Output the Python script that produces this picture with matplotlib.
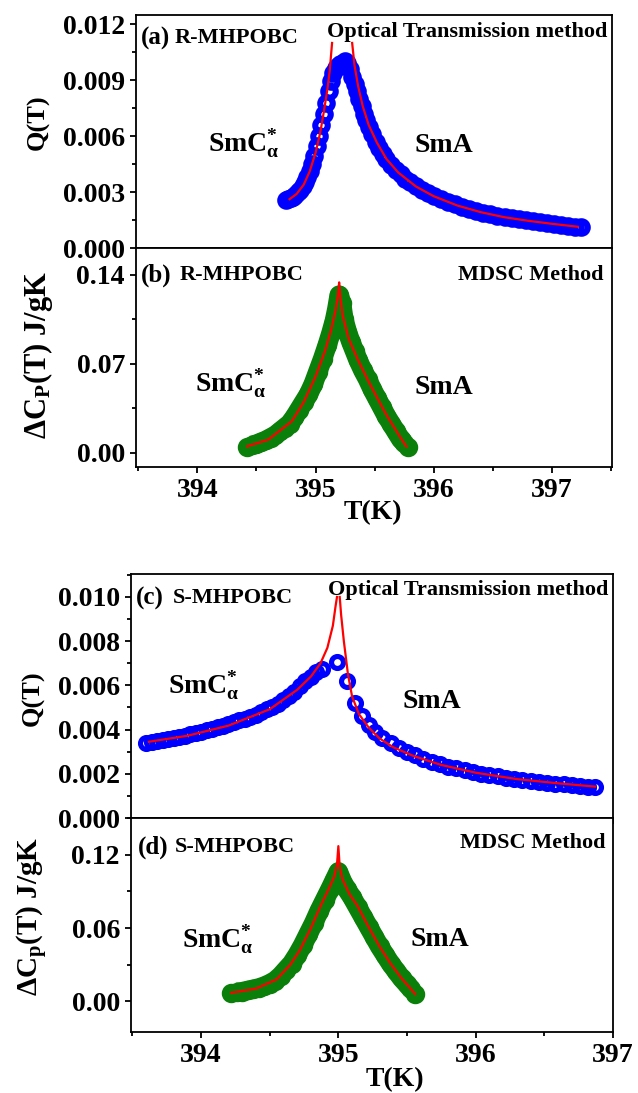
import matplotlib
matplotlib.use("Agg")
import matplotlib.pyplot as plt
from matplotlib.ticker import FormatStrFormatter, MultipleLocator

plt.rcParams['font.family'] = 'Liberation Serif'
plt.rcParams['font.weight'] = 'bold'
plt.rcParams['mathtext.fontset'] = 'custom'
plt.rcParams['mathtext.rm'] = 'Liberation Serif:bold'
plt.rcParams['mathtext.it'] = 'Liberation Serif:bold'
plt.rcParams['mathtext.bf'] = 'Liberation Serif:bold'

# (a) R-MHPOBC, optical transmission
T_a = [394.75, 394.77, 394.79, 394.81, 394.83, 394.85, 394.87, 394.89, 394.91, 394.93,
       394.95, 394.97, 394.99, 395.01, 395.03, 395.05, 395.07, 395.09, 395.11, 395.13,
       395.15, 395.17, 395.19, 395.21, 395.23, 395.25,
       395.27, 395.29, 395.31, 395.33, 395.35, 395.37, 395.39, 395.41, 395.43, 395.45,
       395.48, 395.51, 395.54, 395.57, 395.60, 395.64, 395.68, 395.72, 395.76, 395.80,
       395.85, 395.90, 395.95, 396.00, 396.06, 396.12, 396.18, 396.24, 396.30, 396.36,
       396.42, 396.48, 396.54, 396.60, 396.66, 396.72, 396.78, 396.84, 396.90, 396.96,
       397.02, 397.08, 397.14, 397.20, 397.25]
Q_a = [.00257, .00262, .00268, .00276, .00286, .00298, .00312, .00330, .00352, .00380,
       .00412, .00450, .00495, .00545, .00600, .00660, .00720, .00780, .00840, .00895,
       .00940, .00965, .00975, .00985, .00995, .01005,
       .00995, .00960, .00920, .00880, .00840, .00800, .00760, .00720, .00685, .00650,
       .00610, .00570, .00535, .00505, .00475, .00445, .00418, .00395, .00372, .00352,
       .00330, .00312, .00295, .00280, .00265, .00248, .00234, .00221, .00209, .00198,
       .00189, .00180, .00172, .00165, .00159, .00153, .00148, .00143, .00138, .00133,
       .00128, .00123, .00119, .00115, .00113]
Tfit_a_lo = [394.78, 394.84, 394.90, 394.95, 395.00, 395.04, 395.07, 395.10, 395.12, 395.14]
Qfit_a_lo = [.00262, .00290, .00340, .00410, .00510, .00620, .00730, .00850, .00950, .01100]
Tfit_a_hi = [395.31, 395.33, 395.36, 395.40, 395.45, 395.52, 395.60, 395.70, 395.85, 396.00,
             396.20, 396.40, 396.60, 396.80, 397.00, 397.22]
Qfit_a_hi = [.01100, .00980, .00870, .00760, .00660, .00565, .00478, .00405, .00330, .00278,
             .00228, .00192, .00165, .00146, .00130, .00114]

# (b) R-MHPOBC, MDSC
T_b = [394.42, 394.46, 394.50, 394.54, 394.58, 394.62, 394.66, 394.70, 394.74, 394.78,
       394.82, 394.86, 394.90, 394.94, 394.98, 395.02, 395.06, 395.10, 395.13, 395.16,
       395.18, 395.20,
       395.22, 395.24, 395.27, 395.30, 395.33, 395.36, 395.40, 395.44, 395.48, 395.52,
       395.56, 395.60, 395.64, 395.68, 395.72, 395.75, 395.78]
C_b = [.005, .006, .007, .0085, .010, .012, .014, .017, .020, .023,
       .028, .034, .040, .046, .054, .064, .074, .085, .094, .104,
       .113, .124,
       .118, .105, .095, .087, .080, .073, .065, .058, .050, .043,
       .036, .029, .023, .017, .011, .008, .005]
Tfit_b = [394.42, 394.60, 394.80, 394.90, 395.00, 395.08, 395.13, 395.17, 395.19, 395.20,
          395.21, 395.23, 395.28, 395.36, 395.45, 395.53, 395.60, 395.66, 395.72, 395.77]
Cfit_b = [.0052, .0105, .025, .040, .060, .080, .096, .112, .124, .134,
          .122, .108, .090, .073, .056, .042, .030, .021, .012, .005]

# (c) S-MHPOBC, optical transmission
T_c = [393.60, 393.64, 393.68, 393.72, 393.76, 393.80, 393.84, 393.88, 393.92, 393.96,
       394.00, 394.04, 394.08, 394.12, 394.16, 394.20, 394.24, 394.28, 394.32, 394.36,
       394.40, 394.44, 394.48, 394.52, 394.56, 394.60, 394.64, 394.68, 394.72, 394.76,
       394.80, 394.84, 394.88, 394.99,
       395.06, 395.12, 395.17, 395.22, 395.27, 395.32, 395.38, 395.44, 395.50, 395.56,
       395.62, 395.68, 395.74, 395.80, 395.86, 395.92, 395.98, 396.04, 396.10, 396.16,
       396.22, 396.28, 396.34, 396.40, 396.46, 396.52, 396.58, 396.64, 396.70, 396.76,
       396.82, 396.87]
Q_c = [.00341, .00345, .00349, .00353, .00358, .00363, .00368, .00373, .00378, .00384,
       .00390, .00397, .00404, .00411, .00418, .00426, .00434, .00442, .00450, .00458,
       .00468, .00479, .00491, .00504, .00518, .00534, .00552, .00572, .00595, .00620,
       .00640, .00660, .00672, .00707,
       .00620, .00520, .00460, .00420, .00388, .00362, .00340, .00318, .00300, .00284,
       .00268, .00255, .00243, .00233, .00224, .00216, .00208, .00200, .00194, .00188,
       .00182, .00177, .00172, .00167, .00163, .00159, .00155, .00152, .00148, .00145,
       .00142, .00140]
Tfit_c_lo = [393.62, 393.90, 394.20, 394.50, 394.70, 394.80, 394.87, 394.92, 394.96, 394.98, 394.99]
Qfit_c_lo = [.00345, .00372, .00418, .00492, .00580, .00640, .00700, .00770, .00870, .00960, .01000]
Tfit_c_hi = [395.01, 395.02, 395.04, 395.07, 395.10, 395.15, 395.22, 395.30, 395.40, 395.55,
             395.75, 396.00, 396.30, 396.60, 396.87]
Qfit_c_hi = [.01000, .00920, .00800, .00650, .00550, .00470, .00410, .00360, .00320, .00280,
             .00240, .00205, .00176, .00157, .00142]

# (d) S-MHPOBC, MDSC
T_d = [394.22, 394.26, 394.30, 394.34, 394.38, 394.42, 394.46, 394.50, 394.54, 394.58,
       394.62, 394.66, 394.70, 394.74, 394.78, 394.82, 394.86, 394.90, 394.94, 394.97,
       395.00,
       395.03, 395.06, 395.10, 395.14, 395.18, 395.22, 395.26, 395.30, 395.34, 395.38,
       395.42, 395.46, 395.50, 395.53, 395.56]
C_d = [.007, .0075, .008, .009, .010, .011, .0125, .0145, .017, .021,
       .026, .031, .038, .046, .055, .064, .074, .083, .092, .099,
       .106,
       .098, .092, .085, .077, .069, .061, .053, .045, .038, .031,
       .025, .019, .014, .010, .006]
Tfit_d = [394.22, 394.40, 394.55, 394.65, 394.72, 394.80, 394.87, 394.93, 394.97, 394.99,
          395.00, 395.01, 395.03, 395.08, 395.14, 395.22, 395.30, 395.38, 395.46, 395.56]
Cfit_d = [.007, .0105, .018, .030, .042, .060, .078, .092, .102, .112,
          .127, .110, .100, .088, .078, .061, .045, .031, .019, .006]

W, H = 638, 1093
fig = plt.figure(figsize=(W / 100, H / 100), dpi=100)


def box(l, t, r, b):
    return [l / W, 1 - b / H, (r - l) / W, (b - t) / H]


def ftxt(x, y, s, **kw):
    fig.text(x / W, 1 - y / H, s, fontweight='bold', **kw)


ax_a = fig.add_axes(box(136, 15, 612, 248))
ax_b = fig.add_axes(box(136, 248, 612, 467))
ax_c = fig.add_axes(box(131, 574, 613, 818))
ax_d = fig.add_axes(box(131, 818, 613, 1032))

blue = '#0000ff'
green = '#0a800a'
red = '#ff0000'

ax_a.plot(T_a, Q_a, 'o', mfc='none', mec=blue, ms=9, mew=4.4)
ax_a.plot(Tfit_a_lo, Qfit_a_lo, color=red, lw=1.6)
ax_a.plot(Tfit_a_hi, Qfit_a_hi, color=red, lw=1.6)

# green data: thick band through the points, open circles on top
ax_b.plot(T_b[1:-1], C_b[1:-1], color=green, lw=14, solid_capstyle='butt',
          solid_joinstyle='round')
ax_b.plot(T_b, C_b, 'o', mfc='none', mec=green, ms=9, mew=5)
ax_b.plot(Tfit_b, Cfit_b, color=red, lw=1.6)

ax_c.plot(T_c, Q_c, 'o', mfc='none', mec=blue, ms=8.6, mew=3.7)
ax_c.plot(Tfit_c_lo, Qfit_c_lo, color=red, lw=1.6)
ax_c.plot(Tfit_c_hi, Qfit_c_hi, color=red, lw=1.6)

ax_d.plot(T_d[1:-1], C_d[1:-1], color=green, lw=14, solid_capstyle='butt',
          solid_joinstyle='round')
ax_d.plot(T_d, C_d, 'o', mfc='none', mec=green, ms=9, mew=5)
ax_d.plot(Tfit_d, Cfit_d, color=red, lw=1.6)

settings = [
    (ax_a, (393.48, 397.51), (0, 0.0125), 0.003, '%.3f'),
    (ax_b, (393.48, 397.51), (-0.011, 0.161), 0.07, '%.2f'),
    (ax_c, (393.49, 397.0), (0, 0.01104), 0.002, '%.3f'),
    (ax_d, (393.49, 397.0), (-0.025, 0.150), 0.06, '%.2f'),
]
for ax, xl, yl, ystep, fmt in settings:
    ax.set_xlim(*xl)
    ax.set_ylim(*yl)
    ax.xaxis.set_major_locator(MultipleLocator(1))
    ax.xaxis.set_minor_locator(MultipleLocator(0.5))
    ax.yaxis.set_major_locator(MultipleLocator(ystep))
    ax.yaxis.set_minor_locator(MultipleLocator(ystep / 2))
    ax.yaxis.set_major_formatter(FormatStrFormatter(fmt))
    ax.tick_params(which='both', direction='out', width=1.3, labelsize=20)
    ax.tick_params(which='major', length=4.5)
    ax.tick_params(which='minor', length=2.6)
    for lab in ax.get_xticklabels() + ax.get_yticklabels():
        lab.set_fontweight('bold')
    for sp in ax.spines.values():
        sp.set_linewidth(1.3)
ax_a.tick_params(labelbottom=False)
ax_c.tick_params(labelbottom=False)

# panel annotations
ftxt(141, 38, '(a)', fontsize=18, ha='left', va='center')
ftxt(175, 38, 'R-MHPOBC', fontsize=16, ha='left', va='center')
ftxt(607, 32, 'Optical Transmission method', fontsize=16, ha='right', va='center')
ftxt(208, 143, r'SmC$_{\alpha}^{*}$', fontsize=20, ha='left', va='center')
ftxt(414, 145, 'SmA', fontsize=20, ha='left', va='center')

ftxt(141, 275, '(b)', fontsize=18, ha='left', va='center')
ftxt(180, 275, 'R-MHPOBC', fontsize=16, ha='left', va='center')
ftxt(603, 275, 'MDSC Method', fontsize=16, ha='right', va='center')
ftxt(195, 383, r'SmC$_{\alpha}^{*}$', fontsize=20, ha='left', va='center')
ftxt(415, 387, 'SmA', fontsize=20, ha='left', va='center')

ftxt(136, 598, '(c)', fontsize=18, ha='left', va='center')
ftxt(173, 598, 'S-MHPOBC', fontsize=16, ha='left', va='center')
ftxt(608, 590, 'Optical Transmission method', fontsize=16, ha='right', va='center')
ftxt(168, 685, r'SmC$_{\alpha}^{*}$', fontsize=20, ha='left', va='center')
ftxt(402, 702, 'SmA', fontsize=20, ha='left', va='center')

ftxt(138, 847, '(d)', fontsize=18, ha='left', va='center')
ftxt(175, 847, 'S-MHPOBC', fontsize=16, ha='left', va='center')
ftxt(606, 843, 'MDSC Method', fontsize=16, ha='right', va='center')
ftxt(182, 940, r'SmC$_{\alpha}^{*}$', fontsize=20, ha='left', va='center')
ftxt(410, 940, 'SmA', fontsize=20, ha='left', va='center')

# axis labels
ftxt(38, 122, 'Q(T)', fontsize=19, rotation=90, ha='center', va='center')
ftxt(38, 355, r'ΔC$_{\rm P}$(T) J/gK', fontsize=22, rotation=90, ha='center', va='center')
ftxt(33, 698, 'Q(T)', fontsize=19, rotation=90, ha='center', va='center')
ftxt(33, 916, r'ΔC$_{\rm p}$(T) J/gK', fontsize=21, rotation=90, ha='center', va='center')
ftxt(373, 513, 'T(K)', fontsize=20, ha='center', va='center')
ftxt(395, 1080, 'T(K)', fontsize=20, ha='center', va='center')

fig.savefig('out.png', dpi=100)
